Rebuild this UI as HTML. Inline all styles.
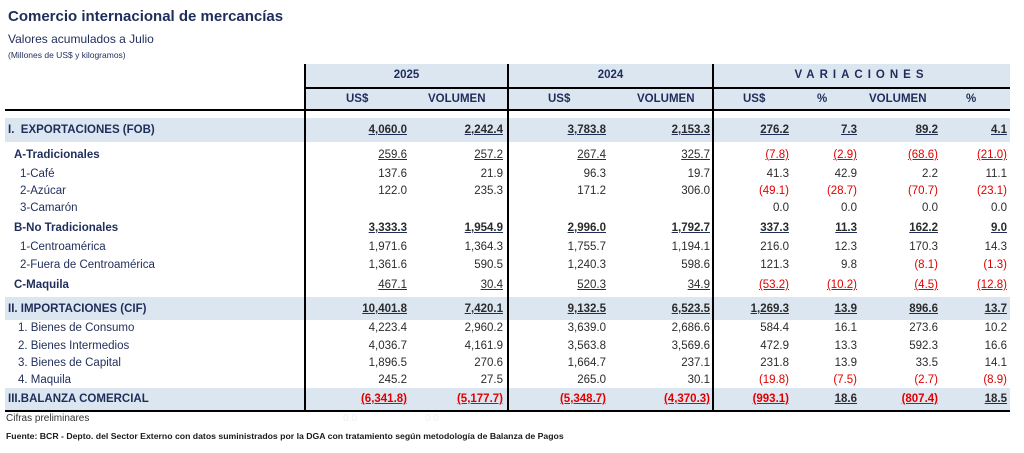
<!DOCTYPE html>
<html><head><meta charset="utf-8"><style>
body{margin:0;width:1024px;height:453px;background:#fff;font-family:"Liberation Sans",sans-serif;position:relative;overflow:hidden;color:#1f2d5a}
.a{position:absolute;white-space:nowrap}
.band{position:absolute;left:5px;width:1005px;background:#dce6f1}
.r{position:absolute;left:0;width:1024px;height:16px;line-height:16px;font-size:11.5px}
.r span{position:absolute;white-space:nowrap;color:#2b2b2b}
.r span.l{color:#1f2d5a}
.b{font-weight:bold}
.u span:not(.l){text-decoration:underline;text-decoration-color:#1f2d5a}
.red{color:#e00000 !important;text-decoration-color:#e00000 !important}
.c1{right:617px}.c2{right:521px}.c3{right:418px}.c4{right:314px}.c5{right:235px}.c6{right:167px}.c7{right:86px}.c8{right:17px}
.v{position:absolute;width:2px;background:#000}
.h{position:absolute;background:#000}
.hd{position:absolute;font-size:11.5px;font-weight:bold;color:#1f2d5a}
</style></head><body>
<div class="a b" style="left:8px;top:8px;font-size:15px;">Comercio internacional de mercancías</div>
<div class="a" style="left:8px;top:32px;font-size:12px;">Valores acumulados a Julio</div>
<div class="a" style="left:8px;top:50px;font-size:8.5px;">(Millones de US$ y kilogramos)</div>

<div class="band" style="left:305px;width:705px;top:64px;height:46px"></div>
<div class="h" style="left:305px;width:705px;top:87px;height:2px"></div>
<div class="h" style="left:5px;width:1005px;top:109px;height:2px"></div>
<div class="hd" style="left:305px;width:203px;text-align:center;top:69px">2025</div>
<div class="hd" style="left:508px;width:205px;text-align:center;top:69px">2024</div>
<div class="hd" style="left:713px;width:297px;text-align:center;top:69px;letter-spacing:5px">VARIACIONES</div>
<div class="hd" style="left:346px;top:93px">US$</div>
<div class="hd" style="left:428px;top:93px">VOLUMEN</div>
<div class="hd" style="left:548px;top:93px">US$</div>
<div class="hd" style="left:637px;top:93px">VOLUMEN</div>
<div class="hd" style="left:743px;top:93px">US$</div>
<div class="hd" style="left:817px;top:93px">%</div>
<div class="hd" style="left:869px;top:93px">VOLUMEN</div>
<div class="hd" style="left:966px;top:93px">%</div>

<div class="band" style="top:118px;height:24px"></div>
<div class="band" style="top:297px;height:23px"></div>
<div class="band" style="top:388px;height:22px"></div>
<div class="h" style="left:5px;width:1005px;top:410px;height:2px"></div>

<div class="v" style="left:304px;top:64px;height:347px"></div>
<div class="v" style="left:507px;top:64px;height:347px"></div>
<div class="v" style="left:712px;top:64px;height:347px"></div>

<div class="r b u" style="top:122px"><span class="l" style="left:8px">I.&nbsp; EXPORTACIONES (FOB)</span><span class="c1">4,060.0</span><span class="c2">2,242.4</span><span class="c3">3,783.8</span><span class="c4">2,153.3</span><span class="c5">276.2</span><span class="c6">7.3</span><span class="c7">89.2</span><span class="c8">4.1</span></div>
<div class="r u" style="top:147px"><span class="l b" style="left:14px">A-Tradicionales</span><span class="c1">259.6</span><span class="c2">257.2</span><span class="c3">267.4</span><span class="c4">325.7</span><span class="c5 red">(7.8)</span><span class="c6 red">(2.9)</span><span class="c7 red">(68.6)</span><span class="c8 red">(21.0)</span></div>
<div class="r" style="top:166px"><span class="l" style="left:20px">1-Café</span><span class="c1">137.6</span><span class="c2">21.9</span><span class="c3">96.3</span><span class="c4">19.7</span><span class="c5">41.3</span><span class="c6">42.9</span><span class="c7">2.2</span><span class="c8">11.1</span></div>
<div class="r" style="top:183px"><span class="l" style="left:20px">2-Azúcar</span><span class="c1">122.0</span><span class="c2">235.3</span><span class="c3">171.2</span><span class="c4">306.0</span><span class="c5 red">(49.1)</span><span class="c6 red">(28.7)</span><span class="c7 red">(70.7)</span><span class="c8 red">(23.1)</span></div>
<div class="r" style="top:200px"><span class="l" style="left:20px">3-Camarón</span><span class="c5">0.0</span><span class="c6">0.0</span><span class="c7">0.0</span><span class="c8">0.0</span></div>
<div class="r b u" style="top:220px"><span class="l" style="left:14px">B-No Tradicionales</span><span class="c1">3,333.3</span><span class="c2">1,954.9</span><span class="c3">2,996.0</span><span class="c4">1,792.7</span><span class="c5">337.3</span><span class="c6">11.3</span><span class="c7">162.2</span><span class="c8">9.0</span></div>
<div class="r" style="top:239px"><span class="l" style="left:20px">1-Centroamérica</span><span class="c1">1,971.6</span><span class="c2">1,364.3</span><span class="c3">1,755.7</span><span class="c4">1,194.1</span><span class="c5">216.0</span><span class="c6">12.3</span><span class="c7">170.3</span><span class="c8">14.3</span></div>
<div class="r" style="top:257px"><span class="l" style="left:20px">2-Fuera de Centroamérica</span><span class="c1">1,361.6</span><span class="c2">590.5</span><span class="c3">1,240.3</span><span class="c4">598.6</span><span class="c5">121.3</span><span class="c6">9.8</span><span class="c7 red">(8.1)</span><span class="c8 red">(1.3)</span></div>
<div class="r u" style="top:277px"><span class="l b" style="left:14px">C-Maquila</span><span class="c1">467.1</span><span class="c2">30.4</span><span class="c3">520.3</span><span class="c4">34.9</span><span class="c5 red">(53.2)</span><span class="c6 red">(10.2)</span><span class="c7 red">(4.5)</span><span class="c8 red">(12.8)</span></div>
<div class="r b u" style="top:301px"><span class="l" style="left:8px">II. IMPORTACIONES (CIF)</span><span class="c1">10,401.8</span><span class="c2">7,420.1</span><span class="c3">9,132.5</span><span class="c4">6,523.5</span><span class="c5">1,269.3</span><span class="c6">13.9</span><span class="c7">896.6</span><span class="c8">13.7</span></div>
<div class="r" style="top:320px"><span class="l" style="left:18px">1. Bienes de Consumo</span><span class="c1">4,223.4</span><span class="c2">2,960.2</span><span class="c3">3,639.0</span><span class="c4">2,686.6</span><span class="c5">584.4</span><span class="c6">16.1</span><span class="c7">273.6</span><span class="c8">10.2</span></div>
<div class="r" style="top:338px"><span class="l" style="left:18px">2. Bienes Intermedios</span><span class="c1">4,036.7</span><span class="c2">4,161.9</span><span class="c3">3,563.8</span><span class="c4">3,569.6</span><span class="c5">472.9</span><span class="c6">13.3</span><span class="c7">592.3</span><span class="c8">16.6</span></div>
<div class="r" style="top:355px"><span class="l" style="left:18px">3. Bienes de Capital</span><span class="c1">1,896.5</span><span class="c2">270.6</span><span class="c3">1,664.7</span><span class="c4">237.1</span><span class="c5">231.8</span><span class="c6">13.9</span><span class="c7">33.5</span><span class="c8">14.1</span></div>
<div class="r" style="top:372px"><span class="l" style="left:18px">4. Maquila</span><span class="c1">245.2</span><span class="c2">27.5</span><span class="c3">265.0</span><span class="c4">30.1</span><span class="c5 red">(19.8)</span><span class="c6 red">(7.5)</span><span class="c7 red">(2.7)</span><span class="c8 red">(8.9)</span></div>
<div class="r b u" style="top:391px"><span class="l" style="left:8px">III.BALANZA COMERCIAL</span><span class="c1 red">(6,341.8)</span><span class="c2 red">(5,177.7)</span><span class="c3 red">(5,348.7)</span><span class="c4 red">(4,370.3)</span><span class="c5 red">(993.1)</span><span class="c6">18.6</span><span class="c7 red">(807.4)</span><span class="c8">18.5</span></div>

<div class="a" style="left:6px;top:413px;font-size:10px;color:#333">Cifras preliminares</div>
<div class="a" style="left:343px;top:413px;font-size:10px;color:#e6f0fa">0.0</div>
<div class="a" style="left:425px;top:413px;font-size:10px;color:#e6f0fa">0.0</div>
<div class="a b" style="left:6px;top:431px;font-size:8.7px;color:#1a1a1a">Fuente: BCR - Depto. del Sector Externo con datos suministrados por la DGA con tratamiento según metodología de Balanza de Pagos</div>
</body></html>
